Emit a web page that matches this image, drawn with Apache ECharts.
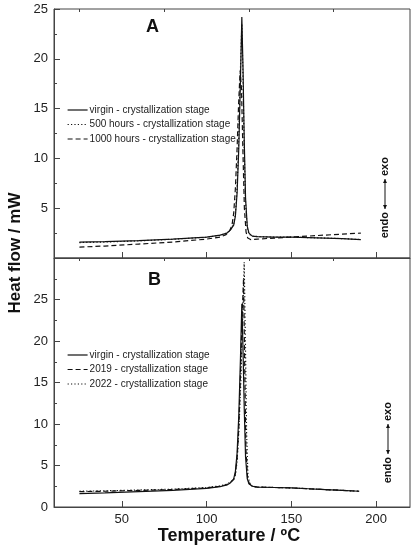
<!DOCTYPE html>
<html>
<head>
<meta charset="utf-8">
<script src="https://cdn.jsdelivr.net/npm/echarts@6/dist/echarts.min.js"></script>
<style>
  html, body { margin: 0; padding: 0; background: #fff; }
  #chart { width: 414px; height: 550px; }
</style>
</head>
<body>
<div id="chart"></div>
<script>
// panel A: temperatures (ºC) and heat flow (mW)
const tempA = [25, 40, 60, 80, 100, 108, 112, 114, 116, 117, 118, 119, 120, 120.8, 121.5, 122.2, 123, 124, 125, 127, 130, 140, 150, 160, 170, 180, 191];
const virginA = [1.6, 1.65, 1.75, 1.9, 2.1, 2.3, 2.5, 2.8, 3.3, 4.2, 6.5, 11, 18, 24.2, 19, 12, 6, 3.2, 2.5, 2.2, 2.15, 2.1, 2.1, 2.05, 2.0, 1.95, 1.85];
const h500A = [1.55, 1.6, 1.72, 1.88, 2.08, 2.28, 2.5, 2.85, 3.4, 4.4, 7, 12, 19, 23.5, 18, 11, 5.5, 3.0, 2.4, 2.2, 2.15, 2.1, 2.1, 2.05, 2.0, 1.95, 1.85];
const temp1000A = [25, 40, 60, 80, 100, 108, 111.5, 113.5, 115, 116, 117, 118, 118.9, 119.8, 120.6, 121.4, 122.3, 123.3, 124.3, 126, 130, 140, 150, 160, 170, 180, 191];
const h1000A = [1.1, 1.2, 1.4, 1.6, 1.9, 2.1, 2.35, 2.7, 3.3, 4.5, 7, 11, 15.5, 18.8, 17, 11, 5, 2.6, 2.0, 1.85, 1.9, 2.0, 2.1, 2.2, 2.3, 2.4, 2.5];

// panel B
const tempB = [25, 40, 60, 80, 100, 108, 112, 114, 116, 117, 118, 119, 120, 120.8, 121.5, 122.2, 123, 124, 125, 127, 130, 140, 150, 160, 170, 180, 190];
const virginB = [1.6, 1.7, 1.85, 2.0, 2.25, 2.45, 2.65, 2.9, 3.4, 4.3, 6.5, 11, 18, 24.5, 19, 12, 6, 3.4, 2.8, 2.5, 2.4, 2.35, 2.3, 2.2, 2.1, 2.0, 1.9];
const temp2019B = [25, 40, 60, 80, 100, 108, 112, 114, 116, 117, 118, 119, 120, 121, 121.8, 122.5, 123.2, 124.2, 125.2, 127, 130, 140, 150, 160, 170, 180, 190];
const y2019B = [1.85, 1.9, 2.0, 2.1, 2.3, 2.5, 2.7, 2.95, 3.3, 4.0, 5.8, 9.5, 16, 23, 27.5, 17, 7, 3.5, 2.8, 2.5, 2.4, 2.35, 2.3, 2.2, 2.1, 2.0, 1.9];
const temp2022B = [25, 40, 60, 80, 100, 108, 112, 114, 116, 117, 118, 119, 120.2, 121.3, 122.2, 122.9, 123.6, 124.4, 125.4, 127, 130, 140, 150, 160, 170, 180, 190];
const y2022B = [1.9, 1.95, 2.05, 2.15, 2.35, 2.55, 2.75, 3.0, 3.3, 3.9, 5.5, 9, 15, 23, 29.5, 20, 9, 3.8, 2.9, 2.5, 2.4, 2.35, 2.3, 2.2, 2.1, 2.0, 1.9];

// axis ticks
const xMajor = [50, 100, 150, 200];
const xMinor = [25, 75, 125, 175];

const namesA = ['virgin - crystallization stage', '500 hours - crystallization stage', '1000 hours - crystallization stage'];
const namesB = ['virgin - crystallization stage', '2019 - crystallization stage', '2022 - crystallization stage'];

const zip = (xs, ys) => xs.map((x, i) => [x, ys[i]]);

const FONT = 'Liberation Sans, Arial, sans-serif';
const INK = '#111';
const DASH = [5, 3];
const DOT = [1.2, 2.2];

function lineSeries(name, xi, yi, xs, ys, type) {
  return {
    name: name,
    type: 'line',
    xAxisIndex: xi,
    yAxisIndex: yi,
    data: zip(xs, ys),
    symbol: 'none',
    smooth: false,
    animation: false,
    lineStyle: { color: INK, width: 1.2, type: type },
    itemStyle: { color: INK },
    z: type === 'solid' ? 3 : 2
  };
}

function xAxisPair(grid, labels) {
  return [{
    type: 'value', gridIndex: grid, min: 10, max: 220,
    axisLine: { show: true, lineStyle: { color: '#444' } },
    axisTick: { show: true, inside: true, length: 6, customValues: xMajor, lineStyle: { color: '#444' } },
    axisLabel: { show: labels, customValues: xMajor, margin: 6, fontSize: 13, color: '#222', fontFamily: FONT },
    splitLine: { show: false }
  }, {
    type: 'value', gridIndex: grid, min: 10, max: 220,
    axisLine: { show: false },
    axisTick: { show: true, inside: true, length: 3, customValues: xMinor, lineStyle: { color: '#444' } },
    axisLabel: { show: false },
    splitLine: { show: false }
  }];
}

function yAxis(grid, max, hide) {
  return {
    type: 'value', gridIndex: grid, min: 0, max: max, interval: 5,
    axisLine: { show: true, lineStyle: { color: '#444' } },
    axisTick: { show: true, inside: true, length: 6, lineStyle: { color: '#444' } },
    minorTick: { show: true, splitNumber: 2, length: 3, lineStyle: { color: '#444' } },
    axisLabel: {
      margin: 6, fontSize: 13, color: '#222', fontFamily: FONT,
      formatter: v => (v === hide ? '' : String(v))
    },
    splitLine: { show: false }
  };
}

const legendBase = {
  orient: 'vertical',
  left: 67,
  padding: 0,
  itemWidth: 20,
  itemHeight: 10,
  itemGap: 4.5,
  itemStyle: { opacity: 0 },
  lineStyle: { width: 1.2 },
  textStyle: { fontSize: 10, color: '#222', fontFamily: FONT, padding: [0, 0, 0, -3] },
  selectedMode: false
};

// endo <-> exo marker, drawn horizontally then turned upright
function endoExo(x, y) {
  const st = { font: 'bold 11px ' + FONT, fill: INK, verticalAlign: 'middle' };
  return {
    type: 'group', x: x, y: y, rotation: Math.PI / 2,
    children: [
      { type: 'text', x: -18, y: 0, style: Object.assign({ text: 'endo', align: 'right' }, st) },
      { type: 'line', shape: { x1: -15, y1: 0, x2: 15, y2: 0 }, style: { stroke: INK, lineWidth: 1 } },
      { type: 'polygon', shape: { points: [[15, 0], [11, -2], [11, 2]] }, style: { fill: INK } },
      { type: 'polygon', shape: { points: [[-15, 0], [-11, -2], [-11, 2]] }, style: { fill: INK } },
      { type: 'text', x: 18, y: 0, style: Object.assign({ text: 'exo', align: 'left' }, st) }
    ]
  };
}

const chart = echarts.init(document.getElementById('chart'), null, { renderer: 'canvas' });

chart.setOption({
  animation: false,
  backgroundColor: '#fff',
  grid: [
    { left: 54, right: 4, top: 9, height: 249, show: true, borderColor: '#444', borderWidth: 1 },
    { left: 54, right: 4, top: 258, height: 249, show: true, borderColor: '#444', borderWidth: 1 }
  ],
  xAxis: [...xAxisPair(0, false), ...xAxisPair(1, true)],
  yAxis: [yAxis(0, 25, 0), yAxis(1, 30, 30)],
  legend: [
    Object.assign({}, legendBase, { top: 105, data: namesA }),
    Object.assign({}, legendBase, { top: 350, data: namesB })
  ],
  series: [
    lineSeries(namesA[0], 0, 0, tempA, virginA, 'solid'),
    lineSeries(namesA[1], 0, 0, tempA, h500A, DOT),
    lineSeries(namesA[2], 0, 0, temp1000A, h1000A, DASH),
    lineSeries(namesB[0], 2, 1, tempB, virginB, 'solid'),
    lineSeries(namesB[1], 2, 1, temp2019B, y2019B, DASH),
    lineSeries(namesB[2], 2, 1, temp2022B, y2022B, DOT)
  ],
  graphic: [
    { type: 'text', left: 146, top: 18, style: { text: 'A', font: 'bold 18px ' + FONT, fill: INK } },
    { type: 'text', left: 148, top: 271, style: { text: 'B', font: 'bold 18px ' + FONT, fill: INK } },
    {
      type: 'text', x: 15, y: 253, rotation: Math.PI / 2,
      style: { text: 'Heat flow / mW', font: 'bold 17px ' + FONT, fill: INK, align: 'center', verticalAlign: 'middle' }
    },
    {
      type: 'text', x: 229, y: 536,
      style: { text: 'Temperature / ºC', font: 'bold 18px ' + FONT, fill: INK, align: 'center', verticalAlign: 'middle' }
    },
    endoExo(385, 194),
    endoExo(388, 439)
  ]
});
</script>
</body>
</html>
